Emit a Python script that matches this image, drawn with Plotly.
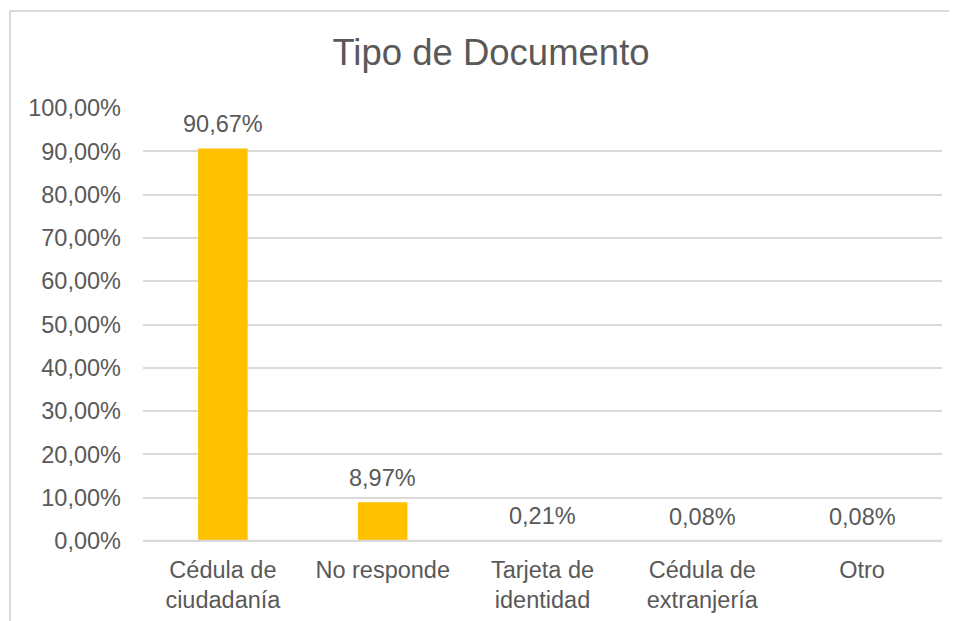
import plotly.graph_objects as go

categories = ["Cédula de<br>ciudadanía", "No responde", "Tarjeta de<br>identidad",
              "Cédula de<br>extranjería", "Otro"]
values = [90.67, 8.97, 0.21, 0.08, 0.08]
labels = ["90,67%", "8,97%", "0,21%", "0,08%", "0,08%"]
tick_vals = [0, 10, 20, 30, 40, 50, 60, 70, 80, 90, 100]
tick_text = ["0,00%", "10,00%", "20,00%", "30,00%", "40,00%", "50,00%",
             "60,00%", "70,00%", "80,00%", "90,00%", "100,00%"]

FONT = "Liberation Sans, Arial, sans-serif"
GREY = "#595959"
LINE = "#d9d9d9"
FS = 23.5

fig = go.Figure(go.Bar(
    x=categories, y=values,
    marker=dict(color="#FFC000", line=dict(width=0)),
    cliponaxis=False, hoverinfo="x+y",
))

for c, v, t in zip(categories, values, labels):
    fig.add_annotation(x=c, y=v, text=t, showarrow=False, yanchor="middle",
                       yshift=24, font=dict(family=FONT, size=FS, color=GREY))

# page body adds an 8px offset, compensated in the margins
W, H = 949, 613
L, T = 135, 100
pw, ph = 799, 433
R, B = W - L - pw, H - T - ph

bx = (2 - L) / pw
by = (T + ph - 3) / ph

fig.update_layout(
    width=W, height=H,
    margin=dict(l=L, r=R, t=T, b=B, pad=0, autoexpand=False),
    paper_bgcolor="white", plot_bgcolor="white",
    showlegend=False,
    bargap=0.69,
    font=dict(family=FONT, color=GREY),
    title=dict(text="Tipo de Documento", x=483 / W, xanchor="center",
               y=1 - 44 / H, yanchor="middle", yref="container",
               font=dict(family=FONT, size=36.5, color=GREY)),
    shapes=[
        dict(type="line", xref="paper", yref="paper", x0=bx, x1=bx, y0=-1, y1=by,
             line=dict(color=LINE, width=2)),
        dict(type="line", xref="paper", yref="paper", x0=bx, x1=1.2, y0=by, y1=by,
             line=dict(color=LINE, width=2)),
        # category axis baseline drawn over the bars
        dict(type="line", xref="paper", yref="y", x0=0, x1=1, y0=0, y1=0,
             layer="above", line=dict(color=LINE, width=2.5)),
    ],
)
fig.update_xaxes(showgrid=False, showline=False, ticks="", automargin=False,
                 ticklabelstandoff=12,
                 tickfont=dict(family=FONT, size=FS, color=GREY))
fig.update_yaxes(range=[0, 100], tickvals=tick_vals, ticktext=tick_text,
                 showgrid=True, gridcolor=LINE, gridwidth=2,
                 zeroline=True, zerolinecolor=LINE, zerolinewidth=2,
                 showline=False, ticks="", ticklen=0, automargin=False,
                 ticklabelstandoff=21,
                 tickfont=dict(family=FONT, size=FS, color=GREY))

fig.write_html("out.html")
